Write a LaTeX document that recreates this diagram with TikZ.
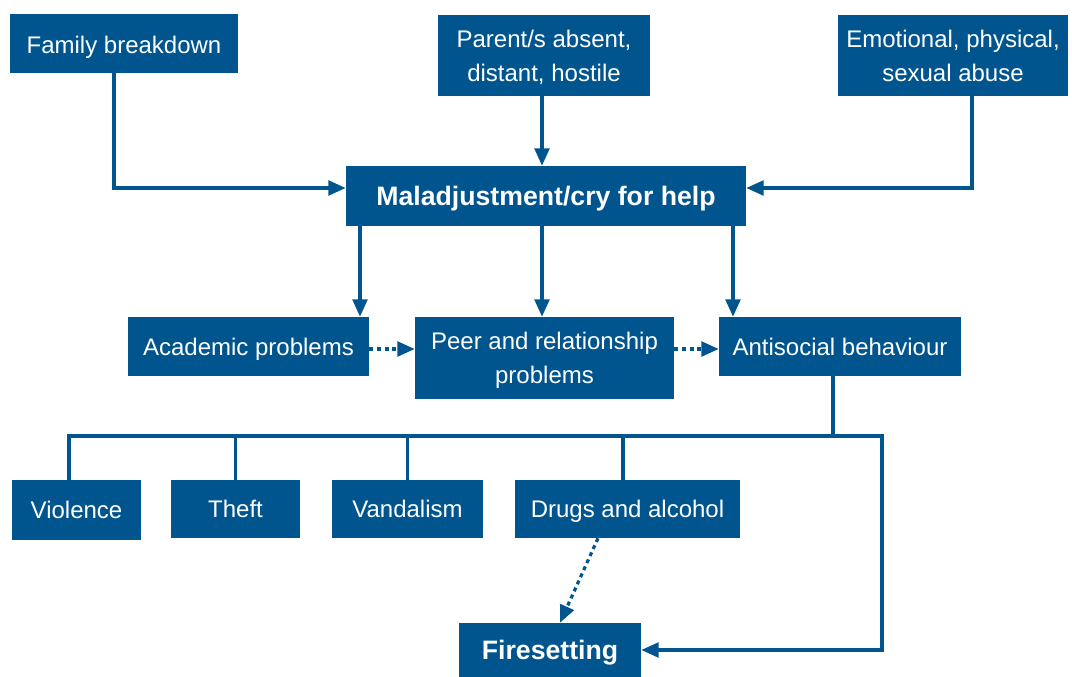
\documentclass[tikz,border=0pt]{standalone}
\usepackage{fontspec}
\setmainfont{Liberation Sans}
\usetikzlibrary{arrows.meta}
\definecolor{nb}{RGB}{0,85,143}
\begin{document}
\begin{tikzpicture}[x=0.75pt,y=-0.75pt,
  box/.style={fill=nb,text=white,inner sep=0pt,align=center,text depth=0pt,font=\fontsize{18}{25.5}\selectfont},
  bbox/.style={box,font=\fontsize{20}{24}\selectfont\bfseries},
  ln/.style={draw=nb,line width=2.4pt},
  arr/.style={ln,-{Triangle[length=13pt,width=11pt]}},
  dot/.style={arr,dash pattern=on 3pt off 2.8pt}]
\useasboundingbox (0,0) rectangle (1072,677);
% boxes
\node[box,minimum width=171pt,minimum height=44.25pt] (fam) at (124,43.5) {\raisebox{-1.5pt}{Family breakdown}};
\node[box,minimum width=159pt,minimum height=60.75pt] (par) at (544,55.5) {Parent/s absent,\\distant, hostile};
\node[box,minimum width=172.5pt,minimum height=60.75pt] (emo) at (953,55.5) {Emotional, physical,\\sexual abuse};
\node[bbox,minimum width=300pt,minimum height=45pt] (mal) at (546,196) {Maladjustment/cry for help};
\node[box,minimum width=180.75pt,minimum height=44.25pt] (aca) at (248.5,346.5) {Academic problems};
\node[box,minimum width=194.25pt,minimum height=61.5pt] (peer) at (544.5,358) {Peer and relationship\\problems};
\node[box,minimum width=181.5pt,minimum height=44.25pt] (anti) at (840,346.5) {Antisocial behaviour};
\node[box,minimum width=96.75pt,minimum height=45pt] (vio) at (76.5,510) {Violence};
\node[box,minimum width=96.75pt,minimum height=43.5pt] (theft) at (235.5,509) {Theft};
\node[box,minimum width=113.25pt,minimum height=43.5pt] (vand) at (407.5,509) {Vandalism};
\node[box,minimum width=168.75pt,minimum height=43.5pt] (drugs) at (627.5,509) {Drugs and alcohol};
\node[bbox,minimum width=136.5pt,minimum height=40.5pt] (fire) at (550,650) {Firesetting};
% helper coordinates
\coordinate (jf) at (114,188);
\coordinate (je) at (972,188);
\coordinate (xp) at (542,0);
\coordinate (xa) at (360,0);
\coordinate (xn) at (733,0);
\coordinate (yd) at (0,349);
\coordinate (jt) at (833,436);
\coordinate (hl) at (69,436);
\coordinate (hr) at (882,436);
\coordinate (xd) at (623,0);
\coordinate (ds) at (598,0);
\coordinate (fs) at (560,0);
% connectors
\draw[arr] (fam.south -| jf) |- (mal.west |- jf);
\draw[arr] (par.south -| xp) -- (mal.north -| xp);
\draw[arr] (emo.south -| je) |- (mal.east |- je);
\draw[arr] (mal.south -| xa) -- (aca.north -| xa);
\draw[arr] (mal.south -| xp) -- (peer.north -| xp);
\draw[arr] (mal.south -| xn) -- (anti.north -| xn);
\draw[dot] (aca.east |- yd) -- (peer.west |- yd);
\draw[dot] (peer.east |- yd) -- (anti.west |- yd);
\draw[ln] (anti.south -| jt) -- (jt);
\draw[arr] (vio.north -| hl) -- (hl) -- (hr) |- (fire.east);
\draw[ln] (theft.north) -- (theft.north |- hl);
\draw[ln] (vand.north) -- (vand.north |- hl);
\draw[ln] (drugs.north -| xd) -- (hl -| xd);
\draw[dot] (drugs.south -| ds) -- (fire.north -| fs);
\end{tikzpicture}
\end{document}
